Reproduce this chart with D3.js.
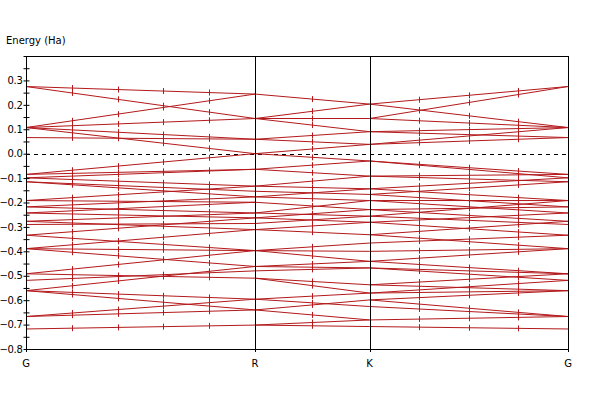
<!DOCTYPE html>
<html>
<head>
<meta charset="utf-8">
<script src="https://cdn.jsdelivr.net/npm/d3@7"></script>
<style>
body { margin: 0; background: #fff; }
svg { display: block; font-family: "DejaVu Sans", sans-serif; }
</style>
</head>
<body>
<svg id="chart" width="594" height="401"></svg>
<script>
// high symmetry points along the path (reciprocal distance)
var kLabels = ["G", "R", "K", "G"];
var kPos = [0, 0.866, 1.299, 2.049];
var kSteps = [5, 2, 4]; // number of k intervals in each segment

// bands as straight pieces: [start energy, end energy] per segment
var segGR = [
	[0.275, 0.244], [0.275, 0.144], [0.107, 0.244], [0.107, 0.144], [0.107, 0.059], [0.107, 0.0],
	[0.066, 0.059], [-0.085, 0.0], [-0.085, -0.064], [-0.099, -0.064], [-0.099, -0.133], [-0.115, -0.154],
	[-0.115, -0.177], [-0.192, -0.133], [-0.192, -0.199], [-0.218, -0.177], [-0.218, -0.243], [-0.243, -0.199],
	[-0.243, -0.263], [-0.277, -0.243], [-0.277, -0.311], [-0.29, -0.286], [-0.334, -0.263], [-0.334, -0.397],
	[-0.389, -0.311], [-0.389, -0.397], [-0.389, -0.462], [-0.492, -0.397], [-0.492, -0.51], [-0.519, -0.48],
	[-0.561, -0.462], [-0.561, -0.596], [-0.561, -0.64], [-0.667, -0.596], [-0.667, -0.64], [-0.718, -0.702]
];
var segRK = [
	[0.244, 0.203], [0.144, 0.203], [0.144, 0.144], [0.144, 0.09], [0.059, 0.09], [0.059, 0.038],
	[0.0, 0.038], [0.0, -0.03], [-0.064, -0.03], [-0.064, -0.092], [-0.133, -0.092], [-0.133, -0.144],
	[-0.154, -0.167], [-0.177, -0.144], [-0.177, -0.192], [-0.199, -0.229], [-0.243, -0.192], [-0.243, -0.256],
	[-0.263, -0.229], [-0.263, -0.281], [-0.286, -0.256], [-0.311, -0.281], [-0.311, -0.332], [-0.397, -0.366],
	[-0.397, -0.4], [-0.397, -0.441], [-0.462, -0.441], [-0.462, -0.468], [-0.48, -0.468], [-0.51, -0.537],
	[-0.51, -0.571], [-0.596, -0.571], [-0.596, -0.626], [-0.64, -0.599], [-0.64, -0.681], [-0.702, -0.681],
	[-0.702, -0.708]
];
var segKG = [
	[0.203, 0.275], [0.144, 0.275], [0.203, 0.107], [0.144, 0.107], [0.09, 0.107], [0.09, 0.066],
	[0.038, 0.107], [0.038, 0.066], [-0.03, -0.085], [-0.03, -0.099], [-0.092, -0.085], [-0.092, -0.115],
	[-0.144, -0.099], [-0.144, -0.192], [-0.167, -0.115], [-0.167, -0.218], [-0.192, -0.192], [-0.192, -0.243],
	[-0.229, -0.218], [-0.229, -0.277], [-0.256, -0.192], [-0.256, -0.29], [-0.281, -0.243], [-0.281, -0.334],
	[-0.332, -0.277], [-0.332, -0.389], [-0.366, -0.334], [-0.4, -0.389], [-0.441, -0.389], [-0.441, -0.492],
	[-0.468, -0.519], [-0.468, -0.492], [-0.537, -0.492], [-0.537, -0.561], [-0.571, -0.519], [-0.571, -0.561],
	[-0.599, -0.561], [-0.599, -0.667], [-0.626, -0.667], [-0.681, -0.667], [-0.708, -0.718]
];
var segments = [segGR, segRK, segKG];

var svg = d3.select("#chart");
var plotLeft = 26, plotRight = 568, plotTop = 56, plotBottom = 349;
var bandColor = "#b3191b";

var x = d3.scaleLinear().domain([0, kPos[3]]).range([plotLeft, plotRight]);
var y = d3.scaleLinear().domain([-0.8, 0.4]).range([plotBottom, plotTop]);

svg.append("text")
	.attr("x", 6).attr("y", 44)
	.attr("font-size", 10).attr("fill", "#000")
	.text("Energy (Ha)");

// zero line
svg.append("line")
	.attr("x1", plotLeft).attr("x2", plotRight)
	.attr("y1", Math.round(y(0)) + 0.5).attr("y2", Math.round(y(0)) + 0.5)
	.attr("stroke", "#000").attr("stroke-dasharray", "4,4");

var g = svg.append("g");

segments.forEach(function(seg, si) {
	var k0 = kPos[si], k1 = kPos[si + 1];
	var n = kSteps[si];
	seg.forEach(function(d) {
		g.append("line")
			.attr("x1", x(k0)).attr("x2", x(k1))
			.attr("y1", y(d[0])).attr("y2", y(d[1]))
			.attr("stroke", bandColor).attr("stroke-width", 1);
		var e = d3.interpolateNumber(d[0], d[1]);
		for (var i = 0; i <= n; i++) {
			var kx = Math.round(x(k0 + (k1 - k0) * i / n)) + 0.5;
			var ky = y(e(i / n));
			g.append("line")
				.attr("x1", kx).attr("x2", kx)
				.attr("y1", ky - 3).attr("y2", ky + 3)
				.attr("stroke", bandColor).attr("stroke-width", 1);
		}
	});
});

// symmetry point lines
[kPos[1], kPos[2]].forEach(function(k) {
	svg.append("line")
		.attr("x1", Math.round(x(k)) + 0.5).attr("x2", Math.round(x(k)) + 0.5)
		.attr("y1", plotTop).attr("y2", plotBottom)
		.attr("stroke", "#000");
});

// frame
svg.append("rect")
	.attr("x", plotLeft + 0.5).attr("y", plotTop + 0.5)
	.attr("width", plotRight - plotLeft).attr("height", plotBottom - plotTop)
	.attr("fill", "none").attr("stroke", "#000");

// y axis
var yAxis = d3.axisLeft(y)
	.tickValues(d3.range(0, 25).map(function(i) { return -0.8 + i * 0.05; }))
	.tickSize(3)
	.tickFormat(function(d) {
		var r = Math.round(d * 100);
		if (r % 10 != 0 || r > 30) return "";
		return d3.format(".1f")(r / 100);
	});
var ya = svg.append("g")
	.attr("transform", "translate(" + (plotLeft + 0.5) + ",0)")
	.call(yAxis);
ya.select(".domain").remove();
ya.selectAll(".tick line").attr("x2", -3).attr("x1", 3).attr("stroke", "#000");
ya.selectAll(".tick text").attr("font-size", 10).attr("font-family", "DejaVu Sans")
	.attr("x", -4).attr("fill", "#000").attr("letter-spacing", -0.3);

// x labels
svg.selectAll(".klabel")
	.data(kLabels)
	.enter()
	.append("text")
	.attr("class", "klabel")
	.attr("x", function(d, i) { return x(kPos[i]); })
	.attr("y", 367)
	.attr("text-anchor", "middle")
	.attr("font-size", 10)
	.text(function(d) { return d; });

svg.selectAll(".ktick")
	.data(kPos)
	.enter()
	.append("line")
	.attr("x1", function(d) { return Math.round(x(d)) + 0.5; })
	.attr("x2", function(d) { return Math.round(x(d)) + 0.5; })
	.attr("y1", plotBottom).attr("y2", plotBottom + 3)
	.attr("stroke", "#000");
</script>
</body>
</html>
